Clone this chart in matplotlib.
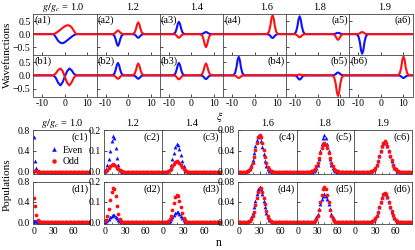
import numpy as np
import matplotlib
matplotlib.use("Agg")
import matplotlib.pyplot as plt
from matplotlib.ticker import MultipleLocator

plt.rcParams['font.family'] = ['Liberation Serif', 'DejaVu Serif']
plt.rcParams['mathtext.fontset'] = 'stix'
plt.rcParams['font.size'] = 7

# ---------------- wavefunction data (xi grid + blue / red values) ----------------
a1_xi = [-14, -5, -4, -3, -2, -1, 0, 1, 2, 3, 4, 5, 14]
a1_blue = [0, 0, -0.12, -0.26, -0.33, -0.35, -0.31, -0.24, -0.17, -0.1, -0.04, 0, 0]
a1_red = [0, 0, 0.04, 0.1, 0.17, 0.24, 0.3, 0.34, 0.33, 0.26, 0.12, 0, 0]
b1_xi = a1_xi
b1_blue = [0, 0, -0.1, -0.28, -0.38, -0.26, -0.04, 0.16, 0.26, 0.19, 0.06, 0, 0]
b1_red = [0, 0, 0.08, 0.2, 0.26, 0.16, -0.06, -0.28, -0.38, -0.26, -0.08, 0, 0]

a2_xi = [-14, -7.0, -6.1, -5.5, -5, -4.5, -4, -3.5, -2.9, -2.0,
         2.0, 2.9, 3.5, 4, 4.5, 5, 5.5, 6.1, 7.0, 14]
a2_blue = [0] + [0, -0.06, -0.2, -0.37, -0.45, -0.37, -0.2, -0.06, 0] \
    + [0, -0.018, -0.06, -0.115, -0.14, -0.115, -0.06, -0.018, 0] + [0]
a2_red = [0] + [0, 0.018, 0.06, 0.115, 0.14, 0.115, 0.06, 0.018, 0] \
    + [0, 0.06, 0.2, 0.37, 0.45, 0.37, 0.2, 0.06, 0] + [0]
b2_xi = a2_xi
b2_blue = [0] + [0, 0.06, 0.21, 0.39, 0.47, 0.39, 0.21, 0.06, 0] \
    + [0, -0.016, -0.055, -0.107, -0.13, -0.107, -0.055, -0.016, 0] + [0]
b2_red = [0] + [0, -0.016, -0.055, -0.107, -0.13, -0.107, -0.055, -0.016, 0] \
    + [0, 0.06, 0.2, 0.37, 0.45, 0.37, 0.2, 0.06, 0] + [0]

a3_xi = [-14, -8.0, -7.1, -6.5, -6, -5.5, -5, -4.5, -3.9, -3.0,
         4.0, 4.9, 5.5, 6, 6.5, 7, 7.5, 8.1, 9.0, 14]
a3_blue = [0] + [0, 0.06, 0.21, 0.39, 0.47, 0.39, 0.21, 0.06, 0] \
    + [0, 0.01, 0.034, 0.066, 0.08, 0.066, 0.034, 0.01, 0] + [0]
a3_red = [0] + [0, -0.018, -0.06, -0.115, -0.14, -0.115, -0.06, -0.018, 0] \
    + [0, -0.065, -0.22, -0.41, -0.5, -0.41, -0.22, -0.065, 0] + [0]
b3_xi = a3_xi
b3_blue = [0] + [0, 0.06, 0.21, 0.39, 0.47, 0.39, 0.21, 0.06, 0] \
    + [0, -0.018, -0.06, -0.115, -0.14, -0.115, -0.06, -0.018, 0] + [0]
b3_red = [0] + [0, -0.02, -0.065, -0.125, -0.15, -0.125, -0.065, -0.02, 0] \
    + [0, 0.06, 0.2, 0.37, 0.45, 0.37, 0.2, 0.06, 0] + [0]

a4_xi = [-14, 5.6, 6.4, 7, 7.5, 8, 8.5, 9, 9.6, 10.4, 14]
a4_blue = [0, 0, -0.02, -0.065, -0.125, -0.15, -0.125, -0.065, -0.02, 0, 0]
a4_red = [0, 0, 0.09, 0.31, 0.6, 0.72, 0.6, 0.31, 0.09, 0, 0]
b4_xi = [-14, -9.4, -8.6, -8, -7.5, -7, -6.5, -6, -5.4, -4.6, 14]
b4_blue = [0, 0, 0.09, 0.3, 0.58, 0.7, 0.58, 0.3, 0.09, 0, 0]
b4_red = [0, 0, -0.013, -0.043, -0.083, -0.1, -0.083, -0.043, -0.013, 0, 0]

a5_xi = [-14, -10.4, -9.6, -9, -8.5, -8, -7.5, -7, -6.4, -5.6,
         6.6, 7.4, 8, 8.5, 9, 9.5, 10, 10.6, 11.4, 14]
a5_blue = [0] + [0, 0.088, 0.29, 0.56, 0.68, 0.56, 0.29, 0.088, 0] \
    + [0, 0.006, 0.021, 0.041, 0.05, 0.041, 0.021, 0.006, 0] + [0]
a5_red = [0] + [0, -0.016, -0.052, -0.1, -0.12, -0.1, -0.052, -0.016, 0] \
    + [0, -0.029, -0.095, -0.18, -0.22, -0.18, -0.095, -0.029, 0] + [0]
b5_xi = a5_xi
b5_blue = [0] + [0, -0.02, -0.07, -0.133, -0.16, -0.133, -0.07, -0.02, 0] \
    + [0, 0.014, 0.047, 0.091, 0.11, 0.091, 0.047, 0.014, 0] + [0]
b5_red = [0] + [0, 0.004, 0.013, 0.025, 0.03, 0.025, 0.013, 0.004, 0] \
    + [0, -0.1, -0.33, -0.64, -0.78, -0.64, -0.33, -0.1, 0] + [0]

a6_xi = [-14, -10.7, -9.9, -9.3, -8.8, -8.3, -7.8, -7.3, -6.7, -5.9, 14]
a6_blue = [0, 0, -0.097, -0.32, -0.62, -0.75, -0.62, -0.32, -0.097, 0, 0]
a6_red = [0, 0, 0.01, 0.034, 0.066, 0.08, 0.066, 0.034, 0.01, 0, 0]
b6_xi = [-14, 7.6, 8.4, 9, 9.5, 10, 10.5, 11, 11.6, 12.4, 14]
b6_blue = [0, 0, -0.013, -0.043, -0.083, -0.1, -0.083, -0.043, -0.013, 0, 0]
b6_red = [0, 0, 0.09, 0.3, 0.59, 0.71, 0.59, 0.3, 0.09, 0, 0]

# ---------------- population data (n = 0, 2, ..., 82; start n + nonzero values) ----------------
n = np.arange(0, 83, 2)

c1_even = (0, [0.66, 0.2, 0.065, 0.02, 0.006])
c1_odd = (0, [0.02, 0.01, 0.005])
d1_even = (0, [0.03, 0.03, 0.02, 0.01, 0.004])
d1_odd = (0, [0.47, 0.31, 0.14, 0.05, 0.015, 0.005])

c2_even = (0, [0.004, 0.012, 0.03, 0.06, 0.1, 0.145, 0.17, 0.16, 0.115, 0.065, 0.03, 0.01, 0.003])
c2_odd = (0, [0.002, 0.005, 0.01, 0.018, 0.027, 0.033, 0.035, 0.033, 0.027, 0.019, 0.012, 0.006, 0.003, 0.001])
d2_even = (0, [0.002, 0.005, 0.01, 0.018, 0.026, 0.032, 0.035, 0.033, 0.027, 0.019, 0.012, 0.006, 0.003, 0.001])
d2_odd = (0, [0.004, 0.012, 0.03, 0.065, 0.11, 0.15, 0.17, 0.165, 0.13, 0.08, 0.04, 0.015, 0.005])

c3_even = (8, [0.005, 0.015, 0.03, 0.06, 0.09, 0.12, 0.135, 0.13, 0.11, 0.08, 0.05, 0.025, 0.01, 0.004])
c3_odd = (8, [0.003, 0.008, 0.015, 0.025, 0.036, 0.045, 0.05, 0.048, 0.042, 0.032, 0.022, 0.013, 0.006, 0.002])
d3_even = (8, [0.003, 0.008, 0.015, 0.025, 0.036, 0.045, 0.05, 0.048, 0.042, 0.032, 0.022, 0.013, 0.006, 0.002])
d3_odd = (8, [0.005, 0.015, 0.03, 0.06, 0.095, 0.125, 0.135, 0.13, 0.105, 0.075, 0.045, 0.022, 0.009, 0.003])

c4_even = (12, [0.001, 0.003, 0.006, 0.012, 0.022, 0.035, 0.049, 0.061, 0.068, 0.067, 0.059,
                0.047, 0.033, 0.021, 0.011, 0.005, 0.002, 0.001])
c4_odd = (12, [0.001, 0.002, 0.0045, 0.0095, 0.0175, 0.029, 0.042, 0.056, 0.066, 0.07, 0.066,
               0.056, 0.042, 0.029, 0.0175, 0.0095, 0.0045, 0.002, 0.001])
d4_even = (12, [0.001, 0.002, 0.0045, 0.0095, 0.0175, 0.029, 0.042, 0.056, 0.066, 0.07, 0.066,
                0.056, 0.042, 0.029, 0.0175, 0.0095, 0.0045, 0.002, 0.001])
d4_odd = (12, [0.0005, 0.001, 0.003, 0.006, 0.012, 0.021, 0.034, 0.048, 0.06, 0.068, 0.068,
               0.06, 0.048, 0.035, 0.022, 0.012, 0.006, 0.003, 0.001])

c5_even = (24, [0.001, 0.003, 0.0065, 0.013, 0.024, 0.039, 0.054, 0.065, 0.07, 0.065, 0.054,
                0.039, 0.024, 0.013, 0.0065, 0.003, 0.001])
c5_odd = (20, [0.0005, 0.0012, 0.0027, 0.0054, 0.01, 0.017, 0.026, 0.036, 0.046, 0.052, 0.055,
               0.052, 0.046, 0.036, 0.026, 0.017, 0.01, 0.0054, 0.0027, 0.0012, 0.0005])
d5_even = (20, [0.0005, 0.0012, 0.0027, 0.0054, 0.01, 0.017, 0.026, 0.036, 0.046, 0.052, 0.055,
                0.052, 0.046, 0.036, 0.026, 0.017, 0.01, 0.0054, 0.0027, 0.0012, 0.0005])
d5_odd = (24, [0.001, 0.003, 0.0065, 0.013, 0.024, 0.039, 0.054, 0.065, 0.07, 0.065, 0.054,
               0.039, 0.024, 0.013, 0.0065, 0.003, 0.001])

c6_even = (24, [0.001, 0.0021, 0.0042, 0.0078, 0.0133, 0.021, 0.03, 0.04, 0.049, 0.0557, 0.058,
                0.0557, 0.049, 0.04, 0.03, 0.021, 0.0133, 0.0078, 0.0042, 0.0021, 0.001])
c6_odd = (24, [0.001, 0.002, 0.004, 0.0075, 0.013, 0.0205, 0.0295, 0.0395, 0.0485, 0.0555, 0.058,
               0.056, 0.0495, 0.0405, 0.0305, 0.0215, 0.0137, 0.008, 0.0044, 0.0022, 0.001])
d6_even = c6_even
d6_odd = c6_odd

ratios = ['1.0', '1.2', '1.4', '1.6', '1.8', '1.9']

W, H = 415, 250
BLUE, RED = '#1010ff', '#ff1010'


def rect(l, t, r, b):
    return [l / W, 1 - b / H, (r - l) / W, (b - t) / H]


def full(spec):
    start, vals = spec
    y = np.zeros(len(n))
    i = start // 2
    y[i:i + len(vals)] = vals
    return y


def style(ax):
    for s in ax.spines.values():
        s.set_linewidth(0.6)
        s.set_color('#444444')
    ax.tick_params(direction='in', length=2, width=0.5, pad=2, labelsize=7)
    ax.tick_params(which='minor', direction='in', length=1.2, width=0.4)


fig = plt.figure(figsize=(4.15, 2.5), dpi=100)

# ---------------- top: wavefunctions ----------------
wave_rows = [
    [(a1_xi, a1_blue, a1_red), (a2_xi, a2_blue, a2_red), (a3_xi, a3_blue, a3_red),
     (a4_xi, a4_blue, a4_red), (a5_xi, a5_blue, a5_red), (a6_xi, a6_blue, a6_red)],
    [(b1_xi, b1_blue, b1_red), (b2_xi, b2_blue, b2_red), (b3_xi, b3_blue, b3_red),
     (b4_xi, b4_blue, b4_red), (b5_xi, b5_blue, b5_red), (b6_xi, b6_blue, b6_red)],
]
label_right = [[False, False, False, False, True, True],
               [False, False, False, True, True, False]]
row_tb = [(14, 55), (55, 96.5)]
colw = 63.2
for r, (t, b) in enumerate(row_tb):
    for k in range(6):
        l = 33.3 + colw * k
        ax = fig.add_axes(rect(l, t, l + colw, b))
        xi, yb, yr = wave_rows[r][k]
        ax.plot(xi, yb, color=BLUE, lw=1.5, solid_joinstyle='round')
        ax.plot(xi, yr, color=RED, lw=1.5, solid_joinstyle='round')
        ax.set_xlim(-14, 14)
        ax.set_ylim(-0.8, 0.77)
        ax.set_xticks([-10, 0, 10])
        ax.set_yticks([-0.5, 0.0, 0.5])
        style(ax)
        if k > 0:
            ax.set_yticklabels([])
        if r == 0:
            ax.set_xticklabels([])
        else:
            ax.set_xticklabels(['-10', '0', '10'])
        lab = '(%s%d)' % ('ab'[r], k + 1)
        if label_right[r][k]:
            ax.text(0.98, 0.96, lab, transform=ax.transAxes, ha='right', va='top', fontsize=7.5)
        else:
            ax.text(0.02, 0.96, lab, transform=ax.transAxes, ha='left', va='top', fontsize=7.5)

top_title_x = [63, 133, 197, 267, 320, 385]
for k, x in enumerate(top_title_x):
    s = r'$g/g_c$ = ' + ratios[k] if k == 0 else ratios[k]
    fig.text(x / W, 1 - 7 / H, s, ha='center', va='center', fontsize=7.5)
fig.text(7 / W, 1 - 55 / H, 'Wavefunctions', rotation=90, ha='center', va='center', fontsize=8)
fig.text(220 / W, 1 - 117 / H, r'$\xi$', ha='center', va='center', fontsize=8.5)

# ---------------- bottom: populations ----------------
pop_rows = [
    [(c1_even, c1_odd), (c2_even, c2_odd), (c3_even, c3_odd),
     (c4_even, c4_odd), (c5_even, c5_odd), (c6_even, c6_odd)],
    [(d1_even, d1_odd), (d2_even, d2_odd), (d3_even, d3_odd),
     (d4_even, d4_odd), (d5_even, d5_odd), (d6_even, d6_odd)],
]
cols_lr = [(33, 90), (104, 162), (162, 221), (238, 297), (297, 354), (354, 412)]
pop_tb = [(130, 173.5), (181.5, 224)]
ylims = [(-0.035, 0.8), (-0.009, 0.2), (-0.009, 0.2), (-0.0035, 0.08), (-0.0035, 0.08), (-0.0035, 0.08)]
yticks = [[0.0, 0.4, 0.8], [0.0, 0.1, 0.2], [0.0, 0.1, 0.2],
          [0.0, 0.04, 0.08], [0.0, 0.04, 0.08], [0.0, 0.04, 0.08]]
yticklabels = [['0.0', '0.4', '0.8'], ['0.0', '0.1', '0.2'], None,
               ['0.00', '0.04', '0.08'], None, None]
for r, (t, b) in enumerate(pop_tb):
    for k, (l, rr) in enumerate(cols_lr):
        ax = fig.add_axes(rect(l, t, rr, b))
        ev, od = pop_rows[r][k]
        ax.plot(n, full(ev), '^', color=BLUE, ms=2.8, mew=0, label='Even')
        ax.plot(n, full(od), 'o', color=RED, ms=2.7, mew=0, label='Odd')
        ax.set_xlim(-1, 84)
        ax.set_ylim(*ylims[k])
        ax.set_xticks([0, 30, 60])
        ax.xaxis.set_minor_locator(MultipleLocator(10))
        ax.set_yticks(yticks[k])
        style(ax)
        if yticklabels[k] is None:
            ax.set_yticklabels([])
        else:
            ax.set_yticklabels(yticklabels[k])
        if r == 0:
            ax.set_xticklabels([])
        ax.text(0.97, 0.94, '(%s%d)' % ('cd'[r], k + 1), transform=ax.transAxes,
                ha='right', va='top', fontsize=7.5)
        if r == 0 and k == 0:
            ax.legend(loc='center right', bbox_to_anchor=(1.03, 0.4), frameon=False,
                      fontsize=7, handlelength=0.8, handletextpad=0.5,
                      labelspacing=0.25, markerscale=1.2)

bot_title_x = [62, 133, 192, 268, 325, 383]
for k, x in enumerate(bot_title_x):
    s = r'$g/g_c$ = ' + ratios[k] if k == 0 else ratios[k]
    fig.text(x / W, 1 - 124 / H, s, ha='center', va='center', fontsize=7.5)
fig.text(7 / W, 1 - 185 / H, 'Populations', rotation=90, ha='center', va='center', fontsize=8)
fig.text(219 / W, 1 - 243 / H, 'n', ha='center', va='center', fontsize=8.5)

fig.savefig('out.png', dpi=100)
